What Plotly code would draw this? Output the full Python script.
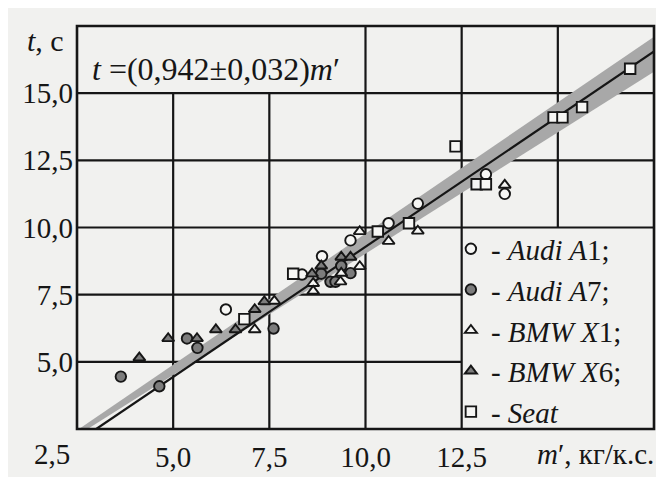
import plotly.graph_objects as go

# ---- data ----
audi_a1_m = [6.37, 8.35, 8.87, 9.61, 10.6, 11.36, 13.13, 13.62]
audi_a1_t = [6.95, 8.25, 8.93, 9.52, 10.16, 10.89, 11.98, 11.25]

audi_a7_m = [3.64, 4.64, 5.36, 5.63, 7.61, 8.85, 9.09, 9.22, 9.37, 9.61]
audi_a7_t = [4.45, 4.09, 5.87, 5.52, 6.24, 8.28, 7.98, 7.98, 8.57, 8.30]

bmw_x1_m = [7.12, 7.63, 8.64, 8.64, 9.35, 9.37, 9.85, 9.85, 10.6, 11.36, 13.62]
bmw_x1_t = [6.20, 7.26, 7.92, 7.63, 7.98, 8.30, 8.55, 9.85, 9.49, 9.87, 11.58]

bmw_x6_m = [4.12, 4.87, 5.62, 6.11, 6.62, 7.12, 7.37, 8.61, 8.85, 9.37, 9.61]
bmw_x6_t = [5.15, 5.87, 5.87, 6.20, 6.20, 6.95, 7.24, 8.28, 8.57, 8.90, 8.90]

seat_m = [6.85, 8.12, 10.32, 11.13, 12.34, 12.89, 13.13, 14.89, 15.12, 15.63, 16.88]
seat_t = [6.59, 8.28, 9.85, 10.16, 13.02, 11.61, 11.61, 14.10, 14.10, 14.48, 15.91]

# fitted line t = (0.942 +/- 0.032) m' and its grey band, read at the plot edges
fit_line_m = [3.0, 17.5]
fit_line_t = [2.5, 16.55]
band_m = [2.5, 17.5]
band_upper_t = [2.45, 17.10]
band_lower_t = [2.25, 15.80]

x_ticks = [5.0, 7.5, 10.0, 12.5]
x_ticktext = ["5,0", "7,5", "10,0", "12,5"]
y_ticks = [5.0, 7.5, 10.0, 12.5, 15.0]
y_ticktext = ["5,0", "7,5", "10,0", "12,5", "15,0"]

FONT = "'Liberation Serif', 'Times New Roman', Times, serif"
BG = "#f1f1ef"
INK = "#161616"
GRAY = "#7c7c7c"
OPEN = "#f6f6f4"

fig = go.Figure()

band_x = band_m + band_m[::-1]
band_y = band_upper_t + band_lower_t[::-1]
fig.add_trace(go.Scatter(x=band_x, y=band_y, fill="toself", fillcolor="#a8a8a8",
                         line=dict(width=0), mode="lines", showlegend=False, hoverinfo="skip"))
fig.add_trace(go.Scatter(x=fit_line_m, y=fit_line_t, mode="lines",
                         line=dict(color=INK, width=2.2), showlegend=False))

series = [
    ("- <i>Audi A</i>1;", audi_a1_m, audi_a1_t, "circle", OPEN, 10.5),
    ("- <i>Audi A</i>7;", audi_a7_m, audi_a7_t, "circle", GRAY, 10.5),
    ("- <i>BMW X</i>1;", bmw_x1_m, bmw_x1_t, "triangle-up", OPEN, 10.5),
    ("- <i>BMW X</i>6;", bmw_x6_m, bmw_x6_t, "triangle-up", GRAY, 10.5),
    ("- <i>Seat</i>", seat_m, seat_t, "square", OPEN, 10.5),
]
for i, (name, xs, ys, sym, fill, size) in enumerate(series):
    fig.add_trace(go.Scatter(x=xs, y=ys, mode="markers", name=name, legendgroup=f"g{i}",
                             marker=dict(symbol=sym, size=size, color=fill,
                                         line=dict(color=INK, width=1.9))))

# grid drawn as shapes (some cells are left free for the formula and the legend)
grid = [
    # vertical
    (5.0, 2.5, 5.0, 15.0), (7.5, 2.5, 7.5, 15.0), (10.0, 2.5, 10.0, 17.5),
    (12.5, 2.5, 12.5, 17.5), (15.0, 10.0, 15.0, 17.5),
    # horizontal
    (2.5, 5.0, 12.5, 5.0), (2.5, 7.5, 12.5, 7.5), (2.5, 10.0, 17.5, 10.0),
    (2.5, 12.5, 17.5, 12.5), (2.5, 15.0, 17.5, 15.0),
]
shapes = [dict(type="line", xref="x", yref="y", x0=a, y0=b, x1=c, y1=d, layer="below",
               line=dict(color=INK, width=2.2)) for a, b, c, d in grid]
shapes.append(dict(type="rect", xref="paper", yref="paper", x0=0, y0=0, x1=1, y1=1,
                   layer="above", line=dict(color=INK, width=2.6)))

annotations = [
    dict(text="<i>t</i>, с", xref="paper", yref="paper", x=-0.055, y=0.963, showarrow=False,
         font=dict(family=FONT, size=30, color=INK), xanchor="center", yanchor="middle"),
    dict(text="<i>t</i> =(0,942±0,032)<i>m</i>′", xref="paper", yref="paper", x=0.022, y=0.893,
         showarrow=False, font=dict(family=FONT, size=32, color=INK), xanchor="left", yanchor="middle"),
    dict(text="2,5", xref="paper", yref="paper", x=-0.043, y=-0.063, showarrow=False,
         font=dict(family=FONT, size=29, color=INK), xanchor="center", yanchor="middle"),
    dict(text="<i>m</i>′, кг/к.с.", xref="paper", yref="paper", x=0.898, y=-0.063, showarrow=False,
         font=dict(family=FONT, size=29, color=INK), xanchor="center", yanchor="middle"),
]

fig.update_layout(
    width=664, height=477,
    margin=dict(l=69, r=18, t=18, b=48),
    paper_bgcolor=BG, plot_bgcolor=BG,
    font=dict(family=FONT, color=INK),
    shapes=shapes, annotations=annotations,
    showlegend=True,
    legend=dict(x=0.648, y=0.51, xanchor="left", yanchor="top", bgcolor="rgba(0,0,0,0)",
                font=dict(family=FONT, size=29, color=INK), tracegroupgap=0,
                itemsizing="trace"),
    xaxis=dict(range=[2.5, 17.5], showgrid=False, zeroline=False, showline=False,
               tickvals=x_ticks, ticktext=x_ticktext, ticks="", ticklabelstandoff=8,
               tickfont=dict(family=FONT, size=29, color=INK)),
    yaxis=dict(range=[2.5, 17.5], showgrid=False, zeroline=False, showline=False,
               tickvals=y_ticks, ticktext=y_ticktext, ticks="", ticklabelstandoff=3,
               tickfont=dict(family=FONT, size=29, color=INK)),
)

fig.write_html("out.html")
